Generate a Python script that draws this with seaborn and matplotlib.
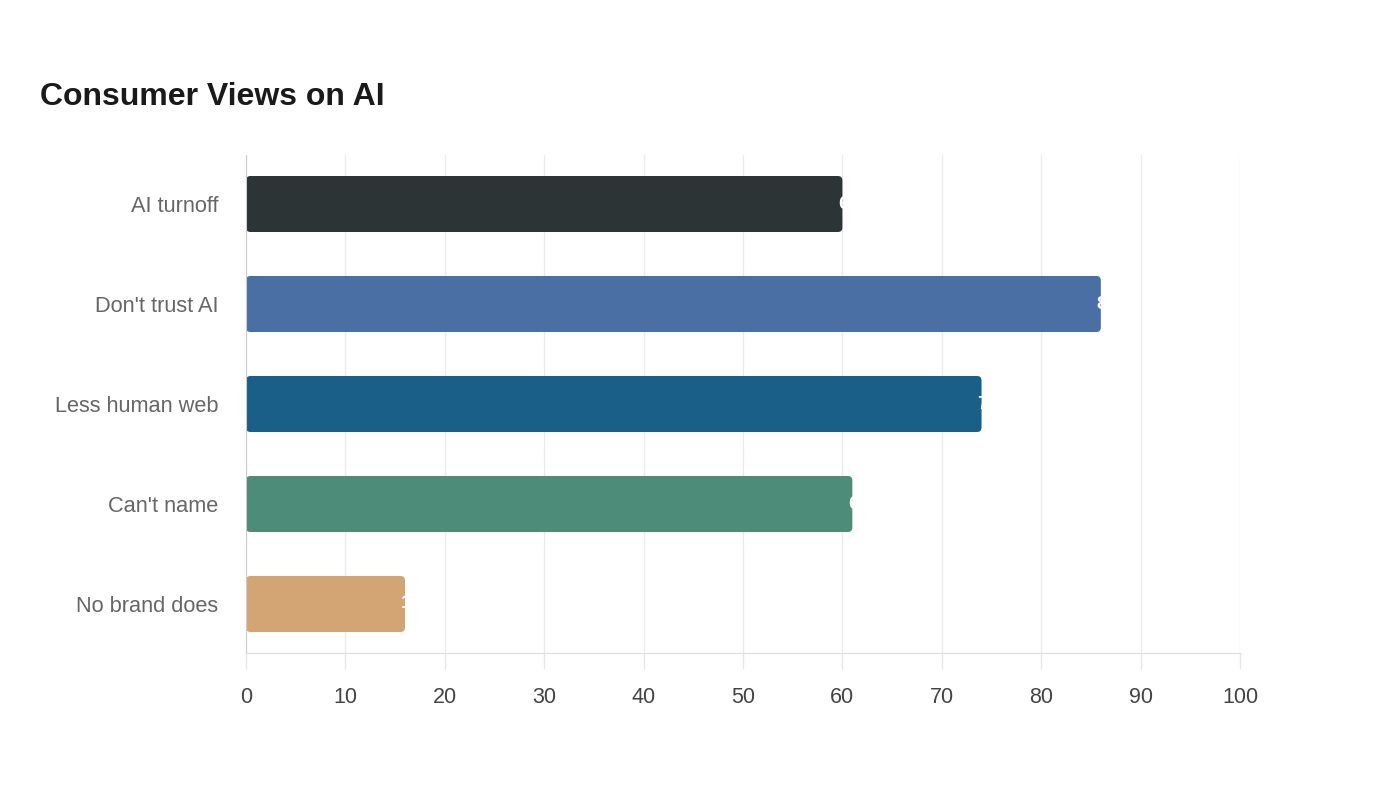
import matplotlib
matplotlib.use("Agg")
import matplotlib.pyplot as plt
from matplotlib.patches import FancyBboxPatch
import pandas as pd
import seaborn as sns

# Chart data
categories = ["AI turnoff", "Don't trust AI", "Less human web", "Can't name", "No brand does"]
values = [60, 86, 74, 61, 16]
colors = ["#2d3436", "#4a6fa5", "#1a5f87", "#4e8c7a", "#d4a574"]
x_ticks = [0, 10, 20, 30, 40, 50, 60, 70, 80, 90, 100]

df = pd.DataFrame({"category": categories, "value": values})

sns.set_style("white")
plt.rcParams["font.family"] = ["Liberation Sans", "DejaVu Sans"]

fig = plt.figure(figsize=(14, 8), dpi=100)
ax = fig.add_axes([246 / 1400, 1 - 653 / 800, (1240 - 246) / 1400, (653 - 155) / 800])

sns.barplot(data=df, x="value", y="category", hue="category", palette=colors,
            orient="h", width=0.56, legend=False, ax=ax, saturation=1)

# round the bar corners
for patch in list(ax.patches):
    x0, y0 = patch.get_x(), patch.get_y()
    w, h = patch.get_width(), patch.get_height()
    rounded = FancyBboxPatch((x0, y0), w, h,
                             boxstyle="round,pad=0,rounding_size=0.45",
                             mutation_aspect=0.1,
                             facecolor=patch.get_facecolor(), edgecolor="none",
                             zorder=patch.get_zorder())
    patch.remove()
    ax.add_patch(rounded)

# value labels (white, at bar end)
for i, v in enumerate(values):
    ax.text(v - 0.4, i, str(v), color="white", fontsize=14, fontweight="bold",
            va="center", ha="left", zorder=5, clip_on=False)

ax.set_xlim(0, 100)
ax.set_ylim(4.49, -0.49)
ax.set_xticks(x_ticks)
ax.set_xlabel("")
ax.set_ylabel("")
ax.grid(axis="x", color="#ebebeb", linewidth=1)
ax.set_axisbelow(True)

for side in ["top", "right"]:
    ax.spines[side].set_visible(False)
ax.spines["left"].set_color("#cccccc")
ax.spines["bottom"].set_color("#dddddd")

ax.tick_params(axis="x", bottom=True, length=11.5, width=1, color="#e6e6e6",
               labelsize=15.5, labelcolor="#444444", pad=13)
ax.tick_params(axis="y", left=False, length=0, labelsize=15.7, labelcolor="#666666", pad=20)

fig.text(40 / 1400, 1 - 97 / 800, "Consumer Views on AI", fontsize=23, fontweight="bold",
         color="#1a1a1a", ha="left", va="center")

fig.savefig("out.png", dpi=100, facecolor="white")
